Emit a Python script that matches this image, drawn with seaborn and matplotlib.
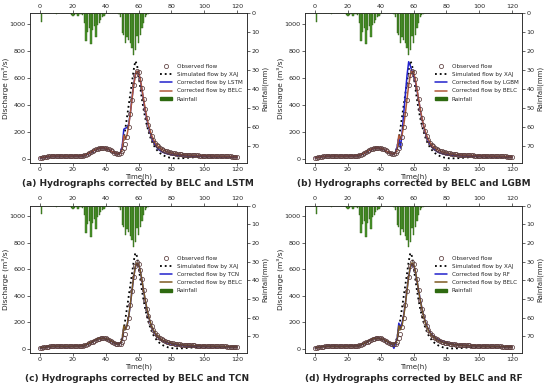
import numpy as np
import pandas as pd
import matplotlib
matplotlib.use("Agg")
import matplotlib.pyplot as plt
import seaborn as sns
from matplotlib.lines import Line2D
from matplotlib.patches import Patch

sns.set_style("ticks")
plt.rcParams["font.family"] = ["DejaVu Sans"]

hours = list(range(121))

observed = [
    8, 10, 12, 14, 16, 18, 20, 21, 22, 22,
    22, 21, 21, 21, 21, 20, 20, 20, 20, 21,
    22, 22, 22, 21, 21, 22, 24, 27, 31, 36,
    42, 49, 56, 63, 70, 75, 79, 82, 83, 82,
    80, 76, 70, 63, 55, 47, 41, 37, 36, 40,
    55, 80, 110, 165, 235, 330, 440, 545, 625, 655,
    645, 595, 525, 445, 370, 305, 250, 205, 170, 142,
    120, 104, 92, 82, 74, 67, 61, 56, 52, 48,
    45, 42, 40, 38, 36, 34, 33, 32, 31, 30,
    29, 28, 28, 27, 27, 26, 26, 25, 25, 24,
    24, 23, 23, 22, 22, 21, 21, 21, 20, 20,
    20, 19, 19, 19, 18, 18, 18, 17, 17, 16,
    15]

xaj = [
    10, 12, 14, 15, 16, 17, 18, 18, 19, 19,
    19, 19, 19, 19, 18, 18, 18, 18, 18, 18,
    19, 19, 19, 19, 19, 20, 22, 25, 29, 34,
    40, 47, 54, 61, 67, 72, 76, 78, 79, 78,
    76, 72, 66, 59, 52, 45, 40, 37, 38, 55,
    85, 150, 230, 315, 400, 485, 570, 660, 725, 700,
    620, 530, 445, 370, 305, 250, 205, 165, 132, 105,
    85, 68, 54, 43, 34, 27, 21, 16, 12, 9,
    7, 5, 4, 4, 4, 4, 5, 5, 6, 7,
    8, 9, 10, 11, 12, 13, 14, 14, 15, 15,
    15, 15, 15, 15, 15, 15, 15, 15, 15, 15,
    15, 15, 15, 15, 14, 14, 14, 14, 14, 14,
    14]

belc = [
    8, 10, 12, 14, 16, 18, 19, 20, 21, 21,
    21, 21, 21, 20, 20, 20, 20, 20, 20, 21,
    21, 22, 22, 22, 22, 23, 25, 28, 32, 37,
    43, 50, 57, 64, 70, 75, 79, 81, 82, 81,
    79, 75, 69, 62, 54, 47, 42, 38, 37, 45,
    70, 175, 145, 180, 250, 340, 445, 545, 620, 650,
    640, 592, 522, 445, 372, 308, 253, 208, 172, 143,
    121, 104, 91, 81, 72, 65, 59, 54, 50, 46,
    43, 40, 38, 36, 34, 33, 31, 30, 29, 28,
    27, 27, 26, 26, 25, 25, 24, 24, 23, 23,
    23, 22, 22, 21, 21, 21, 20, 20, 20, 19,
    19, 19, 18, 18, 18, 17, 17, 17, 16, 16,
    15]

lstm = [
    6, 8, 10, 12, 14, 16, 17, 18, 18, 18,
    18, 18, 18, 18, 18, 18, 18, 18, 18, 19,
    20, 20, 20, 20, 20, 21, 23, 26, 30, 35,
    41, 48, 56, 63, 69, 74, 78, 80, 81, 80,
    78, 74, 68, 61, 53, 46, 41, 37, 37, 48,
    90, 220, 228, 232, 260, 345, 450, 550, 625, 648,
    638, 588, 515, 435, 360, 295, 240, 195, 158, 128,
    104, 86, 72, 62, 54, 48, 43, 39, 36, 33,
    31, 29, 27, 26, 25, 24, 23, 23, 22, 22,
    21, 21, 21, 20, 20, 20, 20, 19, 19, 19,
    19, 18, 18, 18, 18, 17, 17, 17, 17, 16,
    16, 16, 16, 15, 15, 15, 15, 14, 14, 14,
    13]

lgbm = [
    8, 10, 12, 14, 16, 17, 18, 19, 19, 19,
    19, 19, 19, 19, 19, 19, 19, 19, 19, 20,
    21, 21, 21, 21, 21, 22, 24, 27, 31, 36,
    42, 49, 56, 63, 69, 74, 78, 80, 81, 80,
    78, 74, 68, 61, 53, 46, 41, 37, 37, 50,
    90, 160, 80, 200, 340, 480, 620, 720, 690, 650,
    625, 580, 515, 440, 368, 303, 248, 200, 162, 132,
    108, 90, 76, 65, 56, 49, 44, 40, 37, 34,
    32, 30, 28, 27, 26, 25, 24, 23, 23, 22,
    22, 21, 21, 21, 20, 20, 20, 20, 19, 19,
    19, 19, 18, 18, 18, 18, 17, 17, 17, 17,
    16, 16, 16, 16, 15, 15, 15, 15, 14, 14,
    14]

tcn = [
    7, 9, 11, 13, 15, 17, 18, 19, 19, 19,
    19, 19, 19, 19, 19, 18, 18, 18, 18, 19,
    20, 21, 21, 21, 21, 22, 24, 27, 31, 36,
    42, 49, 56, 63, 69, 74, 78, 80, 81, 80,
    78, 74, 68, 61, 53, 46, 41, 37, 36, 44,
    68, 165, 150, 178, 248, 338, 442, 542, 618, 648,
    638, 590, 520, 442, 368, 303, 248, 203, 166, 137,
    115, 98, 85, 75, 66, 59, 53, 48, 44, 40,
    37, 34, 32, 30, 28, 27, 25, 24, 23, 22,
    22, 21, 21, 20, 20, 20, 19, 19, 19, 19,
    19, 18, 18, 18, 18, 18, 17, 17, 17, 17,
    17, 16, 16, 16, 16, 16, 15, 15, 15, 15,
    14]

rf = [
    8, 10, 12, 14, 16, 18, 19, 20, 21, 21,
    21, 21, 20, 20, 20, 20, 20, 20, 20, 21,
    21, 22, 22, 22, 22, 23, 25, 28, 32, 37,
    43, 50, 57, 64, 70, 75, 79, 81, 82, 81,
    79, 75, 69, 62, 54, 47, 40, 30, 5, 45,
    80, 195, 160, 200, 260, 345, 450, 550, 615, 640,
    632, 588, 520, 445, 375, 312, 258, 213, 177, 148,
    126, 109, 96, 85, 76, 69, 63, 58, 53, 49,
    46, 43, 40, 38, 36, 34, 33, 31, 30, 29,
    28, 27, 26, 26, 25, 25, 24, 24, 23, 23,
    22, 22, 22, 21, 21, 20, 20, 20, 19, 19,
    19, 18, 18, 18, 17, 17, 17, 16, 16, 16,
    15]

rainfall = [
    0, 4.5, 0, 0, 0, 0, 0, 0, 0, 0,
    0.5, 0, 0, 0, 0, 0, 0, 0, 0, 1,
    1.5, 1, 0.5, 1.5, 0.5, 0.5, 1, 5, 14.5, 10,
    8, 16.5, 9, 7, 12.5, 6, 5, 3.5, 2, 1.5,
    0.5, 0, 0, 0, 0, 0, 0, 0, 0.5, 2,
    10.5, 11.5, 15.5, 12.5, 14, 16, 18.5, 22, 19.5, 12,
    15.5, 11.5, 8, 5, 2, 1, 0.5, 0, 0, 0] + [0] * 51

models = ["LSTM", "LGBM", "TCN", "RF"]
model_flows = [lstm, lgbm, tcn, rf]
panel_tags = ["(a)", "(b)", "(c)", "(d)"]
belc_colors = ["#b0583a", "#b0583a", "#7d5a22", "#7d5a22"]

df = pd.DataFrame({"hour": hours, "observed": observed, "xaj": xaj,
                   "belc": belc, "rain": rainfall})

rain_face = "#4a962c"
rain_edge = "#2e5e12"
obs_color = "#5c3d3d"
blue = "#2222cc"

fig = plt.figure(figsize=(5.5, 3.87), dpi=100)
positions = [[0.055, 0.579, 0.394, 0.387], [0.555, 0.579, 0.394, 0.387],
             [0.055, 0.088, 0.394, 0.380], [0.555, 0.088, 0.394, 0.380]]
title_xy = [(0.25, 0.527), (0.753, 0.527), (0.25, 0.021), (0.753, 0.021)]

tick_fs = 4.6
for i, name in enumerate(models):
    ax = fig.add_axes(positions[i])
    df["model"] = model_flows[i]

    sns.lineplot(data=df, x="hour", y="xaj", ax=ax, color="black",
                 linestyle=":", linewidth=1.3, zorder=3)
    sns.lineplot(data=df, x="hour", y="model", ax=ax, color=blue,
                 linewidth=1.1, zorder=4)
    sns.lineplot(data=df, x="hour", y="belc", ax=ax, color=belc_colors[i],
                 linewidth=1.1, zorder=5)
    ax.plot(df["hour"], df["observed"], "o", mfc="none", mec=obs_color,
            ms=3.0, mew=0.55, zorder=6)

    ax.set_xlim(-6, 126)
    ax.set_ylim(-30, 1080)
    ax.set_xticks(range(0, 121, 20))
    ax.set_yticks(range(0, 1001, 200))
    ax.tick_params(axis="x", top=True, labeltop=True)
    ax.tick_params(labelsize=tick_fs, length=2, width=0.5, pad=1.2)
    ax.set_xlabel("Time(h)", fontsize=5, labelpad=0.5)
    ax.set_ylabel("Discharge (m³/s)", fontsize=5.3, labelpad=0.8)

    # rainfall on inverted right axis
    ax_r = ax.twinx()
    sns.barplot(data=df, x="hour", y="rain", ax=ax_r, native_scale=True,
                color=rain_face, edgecolor=rain_edge, linewidth=0.3,
                width=0.8, errorbar=None, saturation=1)
    ax_r.set_xlim(-6, 126)
    ax_r.set_ylim(79, 0)
    ax_r.set_yticks(range(0, 71, 10))
    ax_r.tick_params(labelsize=tick_fs, length=2, width=0.5, pad=1.2)
    ax_r.set_ylabel("Rainfall(mm)", fontsize=5, labelpad=1.5)
    ax_r.set_xlabel("")
    for ax_ in (ax, ax_r):
        for sp in ax_.spines.values():
            sp.set_linewidth(0.5)

    handles = [
        Line2D([], [], marker="o", linestyle="none", mfc="none",
               mec=obs_color, ms=3.0, mew=0.55),
        Line2D([], [], color="black", linestyle=":", linewidth=1.3),
        Line2D([], [], color=blue, linewidth=1.1),
        Line2D([], [], color=belc_colors[i], linewidth=1.1),
        Patch(facecolor="#2e6a10", edgecolor="#2e6a10"),
    ]
    labels = ["Observed flow", "Simulated flow by XAJ",
              "Corrected flow by " + name, "Corrected flow by BELC", "Rainfall"]
    ax_r.legend(handles, labels, loc="upper left", bbox_to_anchor=(0.6, 0.66),
                frameon=False, fontsize=4.1, handlelength=2.0,
                labelspacing=0.55, borderaxespad=0, borderpad=0,
                handletextpad=0.9, handleheight=0.6)

    fig.text(title_xy[i][0], title_xy[i][1],
             panel_tags[i] + " Hydrographs corrected by BELC and " + name,
             ha="center", va="center", fontsize=6.5, fontweight="bold")

fig.savefig("out.png", dpi=100)
